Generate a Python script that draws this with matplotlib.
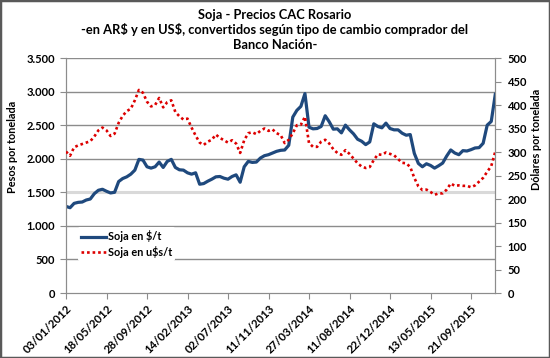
import numpy as np
import matplotlib
matplotlib.use('Agg')
import matplotlib.pyplot as plt
from matplotlib.patches import Rectangle

plt.rcParams['font.family'] = ['Lato', 'DejaVu Sans']
plt.rcParams['font.weight'] = 'bold'
plt.rcParams['text.parse_math'] = False   # los $ son texto, no mathtext

# ================= Datos =================
# Soja CAC Rosario, AR$ por tonelada (muestra cada ~9 ruedas)
soja_ars = [1290, 1270, 1335, 1350, 1355, 1385, 1400, 1480, 1530, 1545,
            1515, 1490, 1500, 1660, 1705, 1730, 1770, 1830, 1990, 1980,
            1880, 1860, 1880, 1950, 1870, 1960, 1990, 1870, 1835, 1830,
            1790, 1770, 1790, 1620, 1630, 1665, 1695, 1730, 1735, 1710,
            1695, 1735, 1760, 1650, 1880, 1960, 1945, 1950, 2010, 2045,
            2060, 2085, 2110, 2125, 2130, 2200, 2620, 2720, 2780, 2970,
            2470, 2445, 2450, 2480, 2640, 2550, 2440, 2445, 2385, 2500,
            2430, 2370, 2290, 2260, 2210, 2250, 2520, 2480, 2460, 2530,
            2450, 2430, 2430, 2380, 2350, 2360, 2080, 1930, 1880, 1925,
            1900, 1860, 1895, 1935, 2040, 2130, 2085, 2060, 2120, 2115,
            2135, 2160, 2165, 2230, 2500, 2555, 2960]

# Soja CAC Rosario, US$ por tonelada (tipo de cambio comprador BNA)
soja_usd = [301, 292, 310, 314, 317, 320, 323, 333, 346, 352,
            346, 334, 339, 362, 377, 387, 392, 410, 432, 426,
            407, 397, 400, 415, 395, 406, 410, 385, 376, 369,
            371, 352, 335, 320, 315, 322, 326, 337, 330, 325,
            320, 325, 318, 298, 325, 340, 342, 338, 345, 350,
            345, 348, 340, 336, 319, 326, 340, 357, 358, 375,
            319, 311, 311, 322, 326, 318, 306, 298, 294, 304,
            296, 286, 276, 269, 266, 268, 283, 295, 294, 299,
            296, 293, 285, 277, 276, 268, 245, 227, 219, 220,
            215, 209, 212, 212, 220, 233, 228, 229, 228, 228,
            225, 229, 237, 245, 258, 270, 301]

fechas = ['03/01/2012', '18/05/2012', '28/09/2012', '14/02/2013',
          '02/07/2013', '11/11/2013', '27/03/2014', '11/08/2014',
          '22/12/2014', '13/05/2015', '21/09/2015']

titulo = ('Soja - Precios CAC Rosario\n'
          '-en AR$ y en US$, convertidos según tipo de cambio comprador del\n'
          'Banco Nación-')

# ====================== Grafico ======================
fig = plt.figure(figsize=(5.5, 3.58), dpi=100)
ax1 = fig.add_axes([66 / 550, 1 - 293 / 358, 429.3 / 550, 235 / 358])
ax2 = ax1.twinx()

x = np.arange(len(soja_ars))

gris = '#8C8C8C'
for v in range(500, 3501, 500):
    if v == 1500:
        ax1.axhline(v, color='#D9D9D9', lw=2.2, zorder=0)
    else:
        ax1.axhline(v, color=gris, lw=1.0, zorder=0)

l1, = ax1.plot(x, soja_ars, color='#1F497D', lw=2.3, label='Soja en $/t',
               solid_joinstyle='round', zorder=3)
l2, = ax2.plot(x, soja_usd, color='#DD0000', lw=1.9, ls=(0, (1, 1.1)),
               label='Soja en u$s/t', zorder=3)

ax1.set_xlim(0, len(soja_ars) - 1)
ax1.set_ylim(0, 3500)
ax2.set_ylim(0, 500)
ax1.set_yticks(range(0, 3501, 500))
ax1.set_yticklabels(['{:,}'.format(v).replace(',', '.') for v in range(0, 3501, 500)])
ax2.set_yticks(range(0, 501, 50))

ax1.set_xticks(x[::10])
ax1.set_xticklabels(fechas, rotation=45, ha='right', va='top',
                    rotation_mode='anchor', fontsize=8.2)

for a in (ax1, ax2):
    for s in a.spines.values():
        s.set_color(gris)
    a.spines['top'].set_visible(False)
ax1.tick_params(axis='x', length=4, color=gris, pad=3)
ax1.tick_params(axis='y', length=4, color=gris, labelsize=8, pad=4)
ax2.tick_params(axis='y', length=4, color=gris, labelsize=8, pad=5)

fig.text(13 / 550, 1 - 147 / 358, 'Pesos por tonelada', rotation=90,
         ha='center', va='center', fontsize=7.8)
fig.text(537 / 550, 1 - 139 / 358, 'Dólares por tonelada', rotation=90,
         ha='center', va='center', fontsize=7.8)

fig.text(0.5, 1 - 9 / 358, titulo, ha='center', va='top', fontsize=9.3,
         linespacing=1.22)

leg = ax1.legend(handles=[l1, l2], loc='upper left',
                 bbox_to_anchor=(0.027, 0.28), frameon=True, fontsize=7.8,
                 handlelength=2.3, handletextpad=0.2, labelspacing=0.35,
                 borderpad=0.3, borderaxespad=0)
leg.get_frame().set_edgecolor('none')
leg.get_frame().set_facecolor('white')
leg.get_frame().set_alpha(1)
leg.set_zorder(5)

fig.patches.append(Rectangle((0, 0), 1, 1, transform=fig.transFigure,
                             fill=False, edgecolor='#595959', lw=2.5))

fig.savefig('out.png', dpi=100)
